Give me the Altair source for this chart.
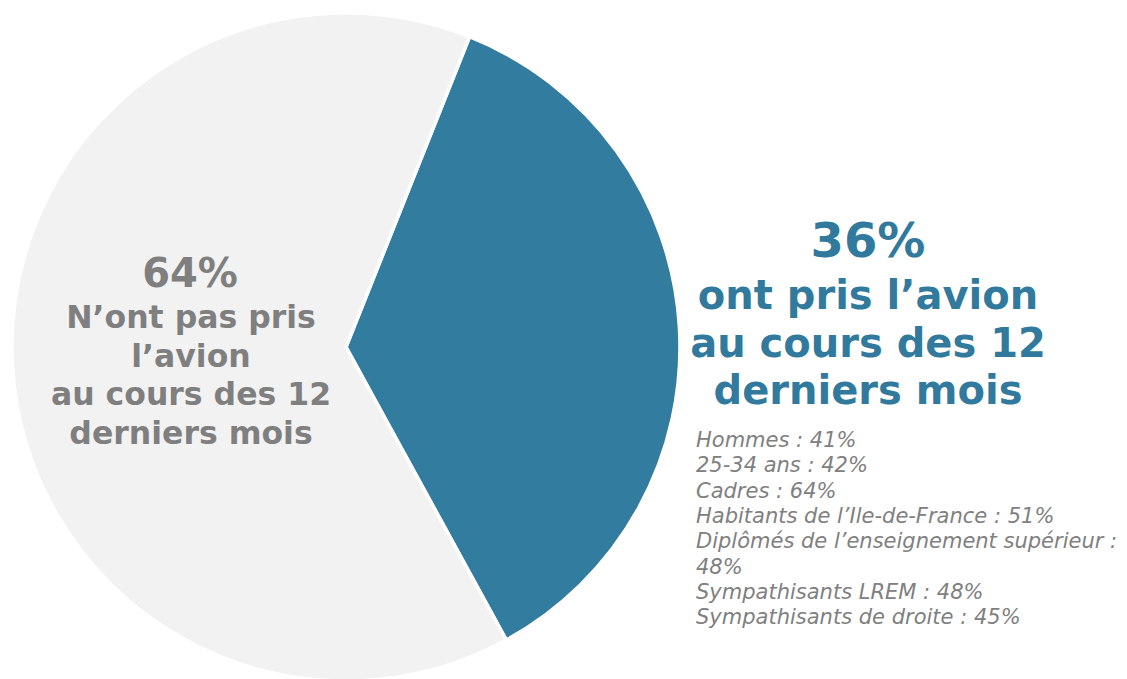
import altair as alt
import pandas as pd

# Data
categories = ["ont pris l’avion", "N’ont pas pris l’avion"]
values = [36, 64]
order = [0, 1]
colors = ["#327C9F", "#F2F2F2"]

blue_pct = "36%"
blue_lines = ["ont pris l’avion", "au cours des 12", "derniers mois"]
gray_pct = "64%"
gray_lines = ["N’ont pas pris", "l’avion", "au cours des 12", "derniers mois"]
detail_lines = [
    "Hommes : 41%",
    "25-34 ans : 42%",
    "Cadres : 64%",
    "Habitants de l’Ile-de-France : 51%",
    "Diplômés de l’enseignement supérieur :",
    "48%",
    "Sympathisants LREM : 48%",
    "Sympathisants de droite : 45%",
]

df = pd.DataFrame({"cat": categories, "val": values, "ord": order})

start = 0.379
TWO_PI = 6.283185307

pie = alt.Chart(df).mark_arc(radius=334, stroke="white", strokeWidth=3.5).encode(
    theta=alt.Theta("val:Q", stack=True, scale=alt.Scale(range=[start, start + TWO_PI])),
    color=alt.Color("cat:N", scale=alt.Scale(domain=categories, range=colors), legend=None),
    order=alt.Order("ord:Q"),
    x=alt.value(338),
    y=alt.value(339),
)

FONT = "DejaVu Sans"
GRAY = "#7F7F7F"
BLUE = "#317A9D"

def txt(text, x, y, size, color, weight="bold", style="normal", align="center", lh=None):
    kw = dict(font=FONT, fontSize=size, color=color, fontWeight=weight, fontStyle=style,
              align=align, baseline="alphabetic", lineBreak="\n")
    if lh is not None:
        kw["lineHeight"] = lh
    return alt.Chart(pd.DataFrame({"t": [text]})).mark_text(**kw).encode(
        text="t:N", x=alt.value(x), y=alt.value(y)
    )

layers = [
    pie,
    txt(gray_pct, 182, 279, 40, GRAY),
    txt("\n".join(gray_lines), 183, 320, 31.5, GRAY, lh=38.5),
    txt(blue_pct, 860, 249, 48, BLUE),
    txt("\n".join(blue_lines), 860, 301, 40, BLUE, lh=47.5),
    txt("\n".join(detail_lines), 688, 439, 21, "#808080", weight="normal", style="italic", align="left", lh=25.3),
]

chart = alt.layer(*layers).properties(
    width=1111, height=671, autosize=alt.AutoSizeParams(type="none"), padding=0
).configure_view(stroke=None)

chart.save("out.html", embed_options={"renderer": "svg", "actions": False})
